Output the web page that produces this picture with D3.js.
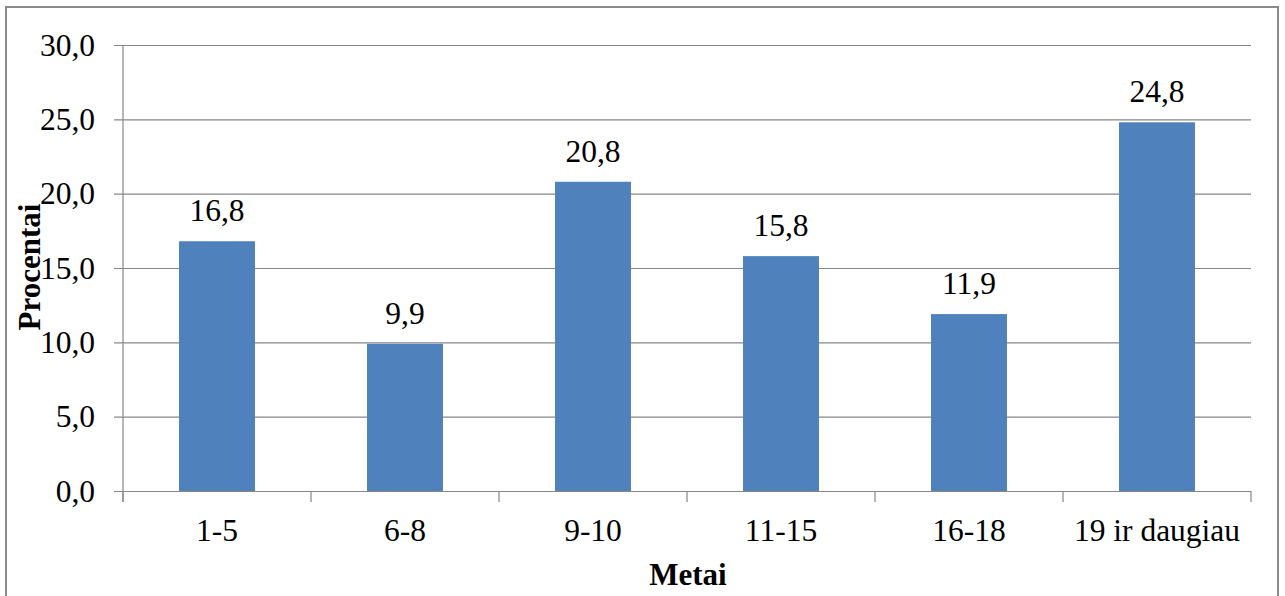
<!DOCTYPE html>
<html>
<head>
<meta charset="utf-8">
<script src="https://cdn.jsdelivr.net/npm/d3@7"></script>
<style>
  html, body { margin: 0; padding: 0; background: #fff; }
  svg { display: block; }
</style>
</head>
<body>
<div id="chart"></div>
<script>
// Age groups and their share (%)
const categories = ["1-5", "6-8", "9-10", "11-15", "16-18", "19 ir daugiau"];
const values = [16.8, 9.9, 20.8, 15.8, 11.9, 24.8];
const yTicks = [0, 5, 10, 15, 20, 25, 30];
const xTitle = "Metai";
const yTitle = "Procentai";

const W = 1285, H = 596;
const plot = { left: 123, right: 1251, top: 45, bottom: 491 };
const FONT = '"Liberation Serif"';
const FS = 31.5;

const svg = d3.select("#chart").append("svg")
  .attr("width", W).attr("height", H);

// outer chart frame
svg.append("rect")
  .attr("x", 6).attr("y", 7)
  .attr("width", 1272).attr("height", 600)
  .attr("fill", "#fff")
  .attr("stroke", "#8a8a8a").attr("stroke-width", 2);

const x = d3.scaleBand()
  .domain(categories)
  .range([plot.left, plot.right])
  .paddingInner(0.596)
  .paddingOuter(0.298);

const y = d3.scaleLinear()
  .domain([0, 30])
  .range([plot.bottom, plot.top]);

const fmt = v => d3.format(".1f")(v).replace(".", ",");

// horizontal gridlines with tick labels
const yAxis = d3.axisLeft(y)
  .tickValues(yTicks)
  .tickSize(-(plot.right - plot.left))
  .tickPadding(28)
  .tickFormat(fmt);

const gy = svg.append("g")
  .attr("transform", `translate(${plot.left},0)`)
  .call(yAxis)
  .attr("font-family", null)
  .attr("font-size", null);
gy.select(".domain").remove();
gy.selectAll(".tick line")
  .attr("x1", -9)
  .attr("stroke", "#878787").attr("stroke-width", 1.2);
gy.selectAll(".tick text")
  .style("font-family", FONT)
  .attr("font-size", FS)
  .attr("fill", "#000");

// vertical axis line
svg.append("line")
  .attr("x1", plot.left).attr("x2", plot.left)
  .attr("y1", plot.top).attr("y2", plot.bottom + 11)
  .attr("stroke", "#878787").attr("stroke-width", 1.2);

// category boundary ticks on the baseline
const step = x.step();
const boundaries = d3.range(categories.length + 1).map(i => plot.left + i * step);
svg.append("g").selectAll("line")
  .data(boundaries)
  .join("line")
  .attr("x1", d => d).attr("x2", d => d)
  .attr("y1", plot.bottom).attr("y2", plot.bottom + 11)
  .attr("stroke", "#878787").attr("stroke-width", 1.2);

// bars
svg.append("g").selectAll("rect")
  .data(values)
  .join("rect")
  .attr("x", (d, i) => x(categories[i]))
  .attr("y", d => y(d))
  .attr("width", x.bandwidth())
  .attr("height", d => y(0) - y(d))
  .attr("fill", "#4f81bd");

// value labels
svg.append("g").selectAll("text")
  .data(values)
  .join("text")
  .attr("x", (d, i) => x(categories[i]) + x.bandwidth() / 2)
  .attr("y", d => y(d) - 20)
  .attr("text-anchor", "middle")
  .style("font-family", FONT)
  .attr("font-size", FS)
  .text(fmt);

// category labels
svg.append("g").selectAll("text")
  .data(categories)
  .join("text")
  .attr("x", d => x(d) + x.bandwidth() / 2)
  .attr("y", plot.bottom + 50)
  .attr("text-anchor", "middle")
  .style("font-family", FONT)
  .attr("font-size", FS)
  .text(d => d);

// axis titles
svg.append("text")
  .attr("x", 688).attr("y", 585)
  .attr("text-anchor", "middle")
  .style("font-family", FONT)
  .attr("font-size", 31).attr("font-weight", "bold")
  .text(xTitle);

svg.append("text")
  .attr("transform", "translate(40,267) rotate(-90)")
  .attr("text-anchor", "middle")
  .style("font-family", FONT)
  .attr("font-size", 31).attr("font-weight", "bold")
  .text(yTitle);
</script>
</body>
</html>
